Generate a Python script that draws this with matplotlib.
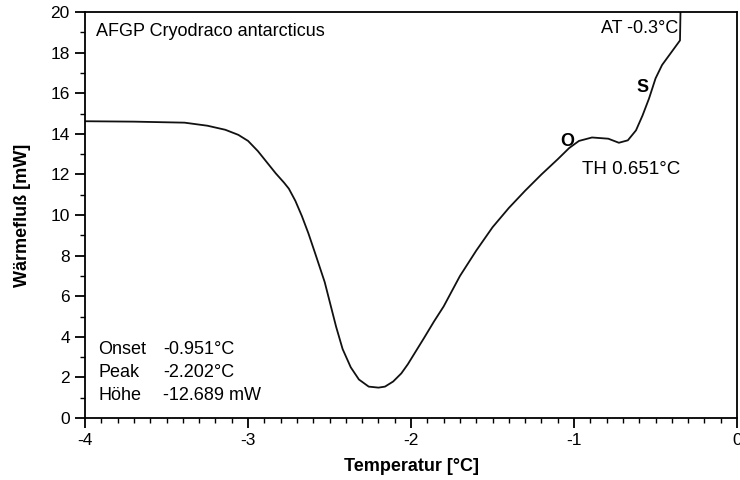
import matplotlib
matplotlib.use("Agg")
import matplotlib.pyplot as plt
from matplotlib.ticker import MultipleLocator

plt.rcParams['font.family'] = ['Liberation Sans', 'DejaVu Sans']

temperature = [-4.0, -3.7, -3.39, -3.25, -3.14, -3.06, -3.0, -2.94, -2.88, -2.83,
               -2.78, -2.75, -2.71, -2.67, -2.63, -2.59, -2.53, -2.46, -2.42, -2.37,
               -2.32, -2.26, -2.2, -2.16, -2.11, -2.06, -2.02, -1.97, -1.92, -1.86,
               -1.8, -1.7, -1.6, -1.5, -1.4, -1.3, -1.2, -1.1, -1.03, -0.97,
               -0.89, -0.79, -0.725, -0.67, -0.62, -0.58, -0.54, -0.50, -0.46, -0.40,
               -0.35, -0.347]
heat_flow = [14.62, 14.6, 14.55, 14.4, 14.2, 13.95, 13.65, 13.15, 12.55, 12.05,
             11.6, 11.3, 10.7, 9.95, 9.1, 8.15, 6.7, 4.5, 3.4, 2.5,
             1.9, 1.55, 1.5, 1.55, 1.8, 2.2, 2.65, 3.3, 3.95, 4.75,
             5.5, 7.0, 8.25, 9.4, 10.35, 11.2, 12.0, 12.75, 13.3, 13.65,
             13.82, 13.76, 13.56, 13.68, 14.17, 14.9, 15.74, 16.73, 17.39, 18.05,
             18.6, 20.0]

title_text = "AFGP Cryodraco antarcticus"
at_text = "AT -0.3°C"
th_text = "TH 0.651°C"
stats_names = ["Onset", "Peak", "Höhe"]
stats_values = ["-0.951°C", "-2.202°C", "-12.689 mW"]

fig = plt.figure(figsize=(7.4, 4.8), dpi=100)
ax = fig.add_axes([0.115, 0.129, 0.881, 0.846])
ax.plot(temperature, heat_flow, color='#111111', lw=1.3, solid_joinstyle='round')

ax.set_xlim(-4, 0)
ax.set_ylim(0, 20)
ax.xaxis.set_major_locator(MultipleLocator(1))
ax.xaxis.set_minor_locator(MultipleLocator(0.1))
ax.yaxis.set_major_locator(MultipleLocator(2))
ax.yaxis.set_minor_locator(MultipleLocator(1))
ax.set_xticks([-4, -3, -2, -1, 0])
ax.set_xticklabels(['-4', '-3', '-2', '-1', '0'])
ax.tick_params(which='major', direction='out', length=7, width=1.3, labelsize=12.5, pad=4)
ax.tick_params(which='minor', direction='out', length=3.5, width=1.0)
ax.tick_params(axis='x', which='both', bottom=True, top=False)
ax.tick_params(axis='y', which='both', left=True, right=False)
for s in ax.spines.values():
    s.set_linewidth(1.3)

ax.set_xlabel("Temperatur [°C]", fontsize=13, fontweight='bold', labelpad=7)
ax.set_ylabel("Wärmefluß [mW]", fontsize=13, fontweight='bold', labelpad=14)

ax.text(0.016, 0.972, title_text, transform=ax.transAxes, fontsize=13, va='top', ha='left')
ax.text(-0.36, 19.6, at_text, fontsize=13, va='top', ha='right')
ax.text(-0.58, 16.3, "S", fontsize=13, fontweight='bold', ha='center', va='center')
ax.text(-1.04, 13.6, "O", fontsize=13, fontweight='bold', ha='center', va='center')
ax.text(-0.95, 12.25, th_text, fontsize=13.5, ha='left', va='center')

for i, (n, v) in enumerate(zip(stats_names, stats_values)):
    yy = 3.4 - i * 1.15
    ax.text(-3.92, yy, n, fontsize=13, ha='left', va='center')
    ax.text(-3.52, yy, v, fontsize=13, ha='left', va='center')

fig.savefig("out.png", dpi=100)
